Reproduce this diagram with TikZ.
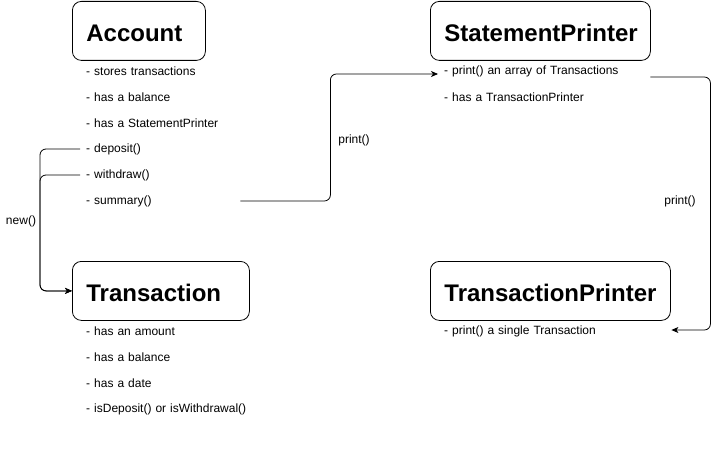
\documentclass[tikz,border=0pt]{standalone}
\usepackage{fontspec}
\setmainfont{Liberation Sans}
\usetikzlibrary{arrows.meta}
\tikzset{
	cls/.style={draw=black,line width=0.8pt,rounded corners=9pt,anchor=north west,minimum height=59pt,inner xsep=14pt,text height=21pt,text depth=0pt,align=left,font=\fontsize{24}{28}\selectfont\bfseries},
	item/.style={anchor=west,inner xsep=6pt,inner ysep=0pt,align=left,font=\fontsize{12}{14}\selectfont},
	conn/.style={black,line width=0.8pt,rounded corners=6pt,-{Stealth[length=7pt,width=6pt,inset=2pt]}},
	lbl/.style={font=\fontsize{12}{14}\selectfont,inner sep=0pt}
}
\begin{document}
\begin{tikzpicture}[x=1pt,y=-1pt]
			\useasboundingbox (0,0) rectangle (719,462);
			\node[cls,text width=105pt](acc) at (72,1){Account};
			\node[cls,text width=192pt](stp) at (430,1){StatementPrinter};
			\node[cls,text width=149pt](tr) at (72,261){Transaction};
			\node[cls,text width=212pt](trp) at (430,261){TransactionPrinter};
			\node[item,text width=148pt](acc1) at (80,71){- stores transactions};
			\node[item,text width=148pt](acc2) at (80,97){- has a balance};
			\node[item,text width=148pt](acc3) at (80,123){- has a StatementPrinter};
			\node[item,text width=148pt](acc4) at (80,149){- deposit()};
			\node[item,text width=148pt](acc5) at (80,175){- withdraw()};
			\node[item,text width=148pt](acc6) at (80,201){- summary()};
			\node[item,text width=200pt](stp1) at (438,71){- print() an array of Transactions};
			\node[item,text width=200pt](stp2) at (438,97){- has a TransactionPrinter};
			\node[item,text width=170pt](tr1) at (80,331){- has an amount};
			\node[item,text width=170pt](tr2) at (80,357){- has a balance};
			\node[item,text width=170pt](tr3) at (80,383){- has a date};
			\node[item,text width=170pt](tr4) at (80,409){- isDeposit() or isWithdrawal()};
			\node[item,text width=221pt](trp1) at (438,331){- print() a single Transaction};
			\node[lbl](lnew) at (21,221){new()};
			\node[lbl](lpr1) at (354,140){print()};
			\node[lbl](lpr2) at (680,201){print()};
			\draw[conn](acc4.west)--++(-40,0)|-(tr.west);
			\draw[conn](acc5.west)--++(-40,0)|-(tr.west);
			\draw[conn](acc6.east)--++(90,0)|-([yshift=-3pt]stp1.west);
			\draw[conn]([yshift=-6pt]stp1.east)--++(60,0)|-([yshift=1pt]trp1.east);
		\end{tikzpicture}
\end{document}
